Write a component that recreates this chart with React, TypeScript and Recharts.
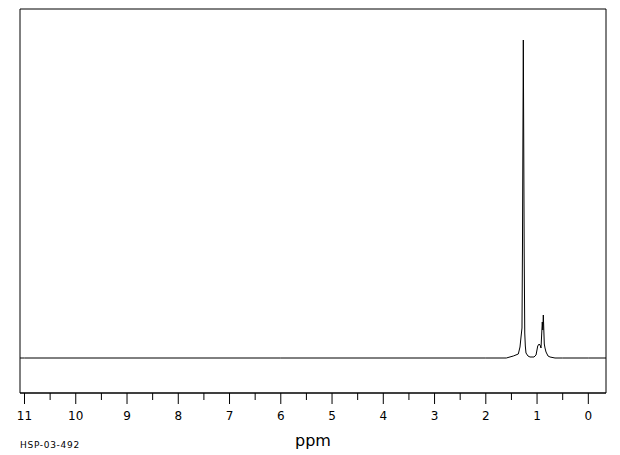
import React from "react";
import { LineChart, Line, XAxis, YAxis, ReferenceArea } from "recharts";

const ppm = [11.088, 11, 6, 2, 1.6, 1.463, 1.366, 1.333, 1.313, 1.294, 1.285, 1.268, 1.251, 1.24, 1.229, 1.216, 1.177, 1.138, 1.06, 1.02, 0.987, 0.96, 0.942, 0.923, 0.898, 0.888, 0.878, 0.859, 0.845, 0.825, 0.786, 0.747, 0.65, 0.5, 0, -0.345];
const intensity = [0, 0, 0, 0, 0, 2, 4, 11, 21, 30, 108, 318, 105, 25, 12, 5, 2, 1, 1, 3, 12, 14, 13, 10, 36, 28, 43, 14, 10, 6, 2, 1, 0, 0, 0, 0];
const tickValues = [0, 0.5, 1, 1.5, 2, 2.5, 3, 3.5, 4, 4.5, 5, 5.5, 6, 6.5, 7, 7.5, 8, 8.5, 9, 9.5, 10, 10.5, 11];

const data = ppm.map((p, i) => ({ ppm: p, v: intensity[i] }));

const Tick = (props: any) => {
  const { x, y, payload } = props;
  const v = payload.value as number;
  const major = Number.isInteger(v);
  return (
    <g>
      <line x1={x} x2={x} y1={y} y2={y + (major ? 11 : 7)} stroke="#000" strokeWidth={1} />
      {major && (
        <text x={x} y={y + 27} textAnchor="middle" fontFamily="DejaVu Sans" fontSize={12} fill="#000">
          {String(v)}
        </text>
      )}
    </g>
  );
};

export default function App() {
  return (
    <div style={{ position: "absolute", left: 0, top: 0, width: 620, height: 455, background: "#fff" }}>
      <LineChart width={620} height={455} data={data} margin={{ top: 9, right: 14, bottom: 0, left: 20 }}>
        <XAxis
          dataKey="ppm"
          type="number"
          reversed
          domain={[-0.345, 11.088]}
          ticks={tickValues}
          interval={0}
          tickLine={false}
          tickSize={0}
          tickMargin={0}
          tick={<Tick />}
          axisLine={{ stroke: "#000", strokeWidth: 1 }}
          height={62}
          allowDataOverflow
        />
        <YAxis domain={[-35, 349]} hide allowDataOverflow />
        <ReferenceArea x1={-0.345} x2={11.088} y1={-35} y2={349} fill="none" stroke="#000" strokeWidth={1} ifOverflow="visible" />
        <Line type="linear" dataKey="v" stroke="#000" strokeWidth={1} dot={false} isAnimationActive={false} />
      </LineChart>
      <div style={{ position: "absolute", left: 0, width: 620, top: 431, textAlign: "center", paddingLeft: 6, boxSizing: "border-box", fontFamily: "DejaVu Sans", fontSize: 16, color: "#000" }}>ppm</div>
      <div style={{ position: "absolute", left: 20, top: 440, fontFamily: "DejaVu Sans", fontSize: 9, letterSpacing: 0.7, color: "#000" }}>HSP-03-492</div>
    </div>
  );
}
